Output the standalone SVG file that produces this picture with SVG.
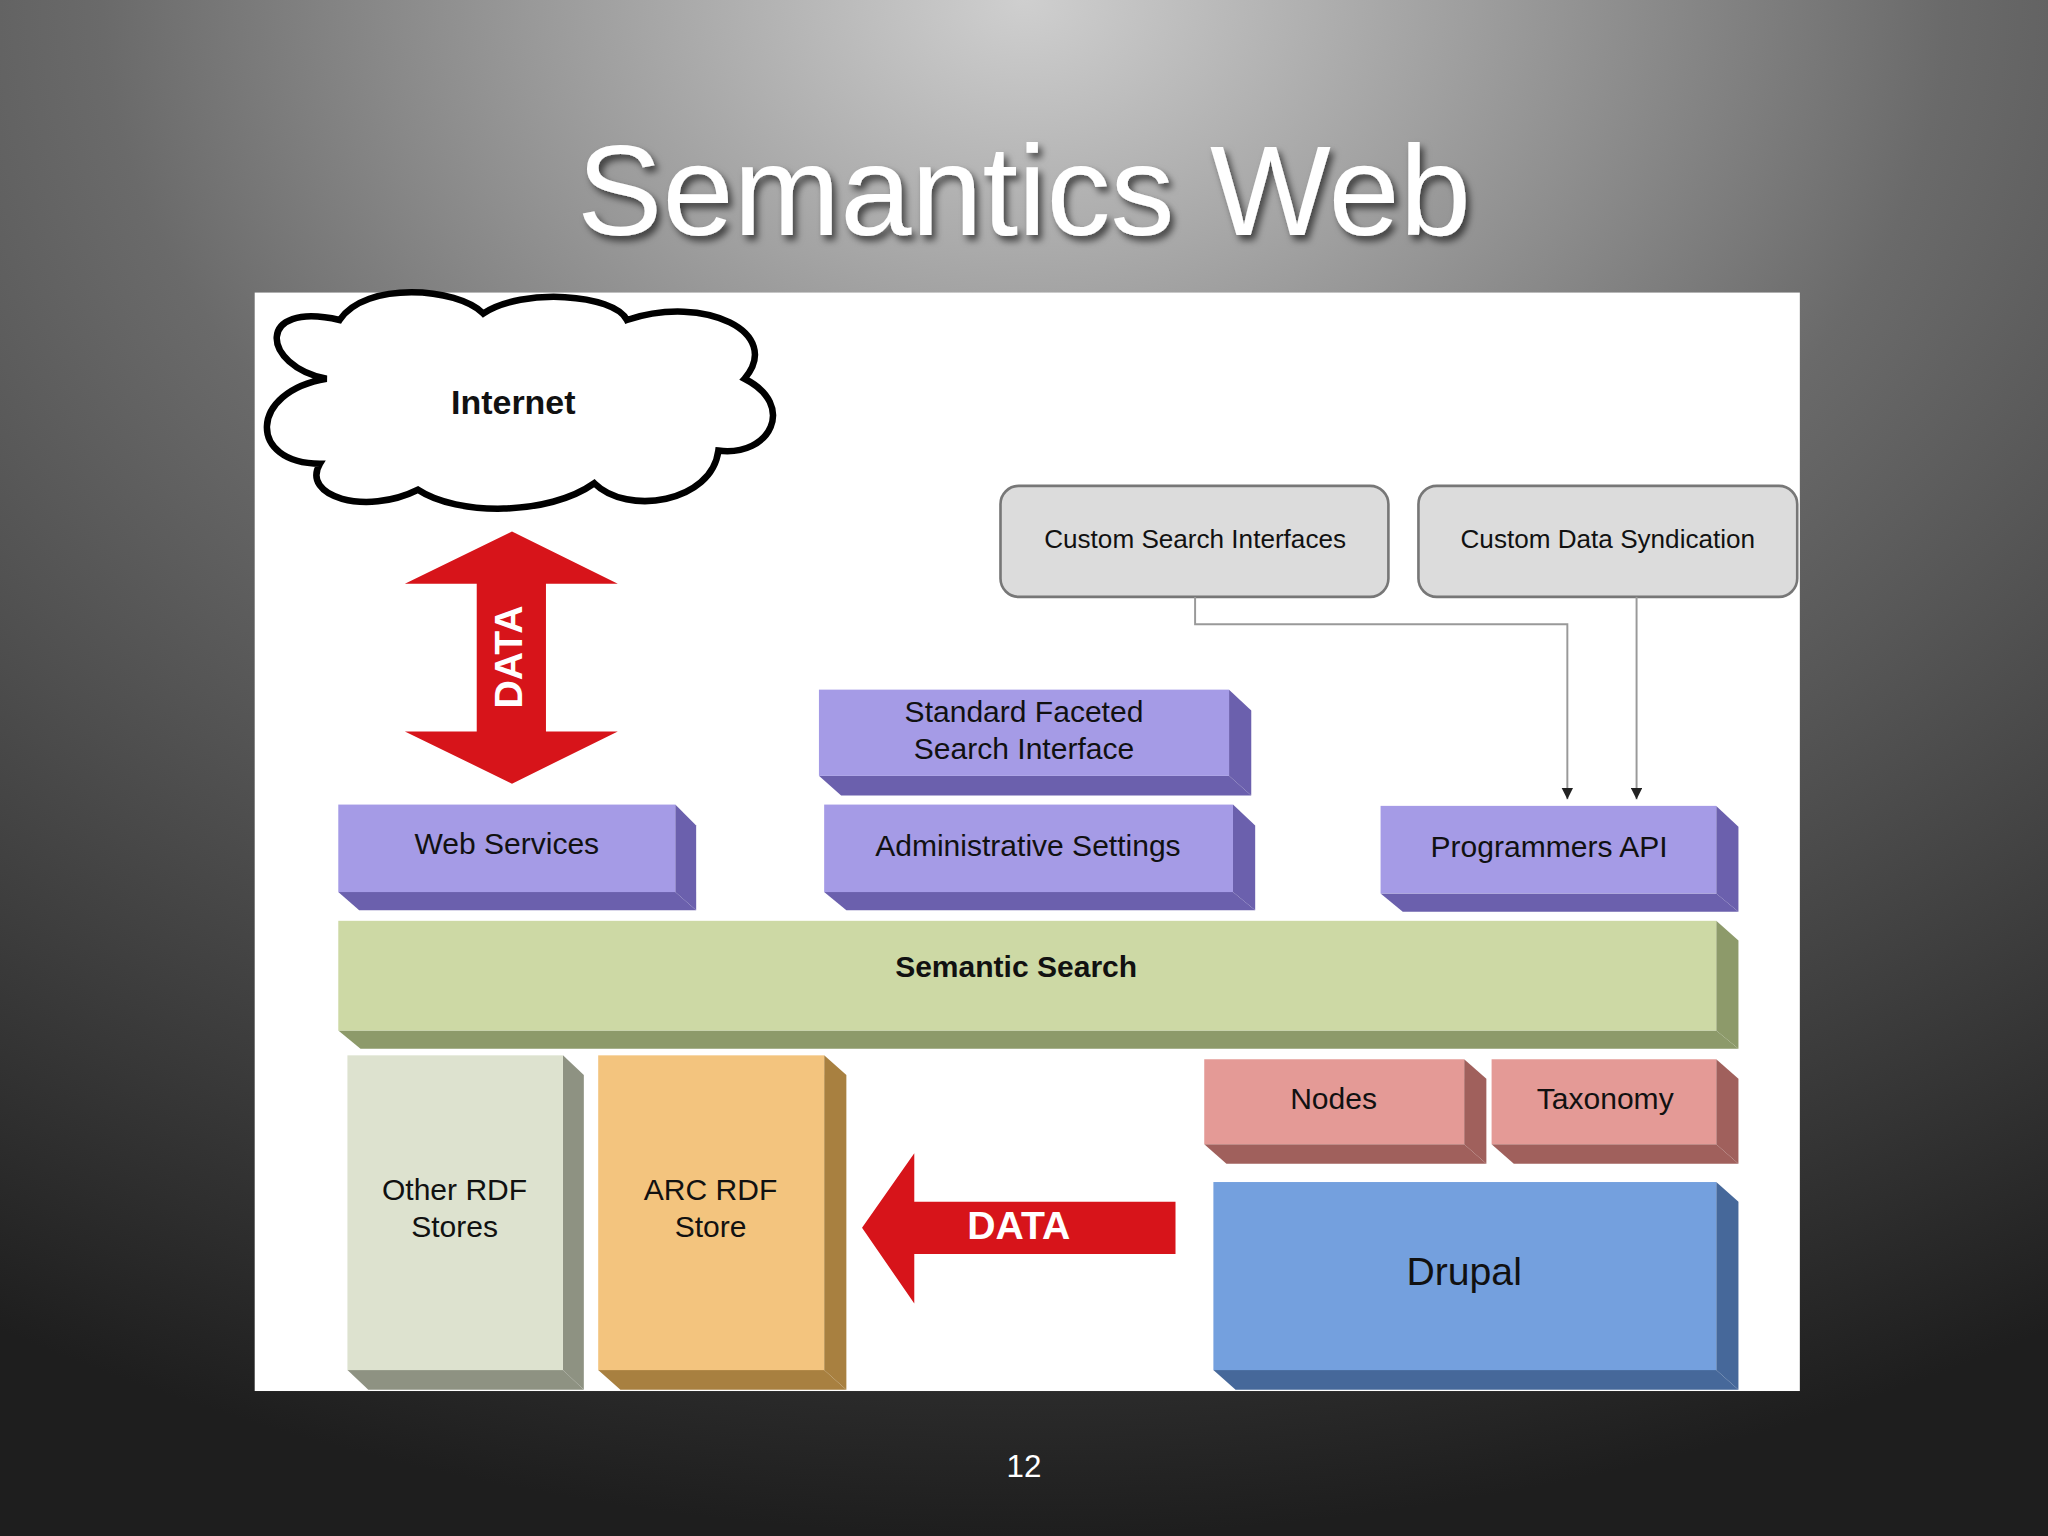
<svg xmlns="http://www.w3.org/2000/svg" width="2048" height="1536" viewBox="0 0 2048 1536">
<defs>
<radialGradient id="bg" cx="0.5" cy="0" r="1" gradientUnits="objectBoundingBox">
<stop offset="0" stop-color="#cfcfcf"/><stop offset="0.45" stop-color="#6a6a6a"/><stop offset="1" stop-color="#1e1e1e"/>
</radialGradient>
<filter id="sh"><feDropShadow dx="3" dy="4" stdDeviation="3" flood-color="#000" flood-opacity="0.6"/></filter>
<marker id="ah" viewBox="0 0 10 10" refX="10" refY="5" markerWidth="6" markerHeight="6" orient="auto"><path d="M0,0L10,5L0,10z" fill="#222"/></marker>
<style>
.t{font-family:"Liberation Sans",Arial,sans-serif;fill:#111;text-anchor:middle;dominant-baseline:middle}
.pf{fill:#a59be6}.ps{fill:#6b60ad}
.line{stroke:#999;stroke-width:1.5;fill:none}
</style>
</defs>
<rect width="2048" height="1536" fill="url(#bg)"/>
<g transform="scale(1.30612)">
<text x="784" y="180" font-family="Liberation Sans,Arial,sans-serif" font-size="98" fill="#fff" text-anchor="middle" filter="url(#sh)">Semantics Web</text>
<rect x="195" y="224" width="1183" height="841" fill="#fff"/>
<g id="internet">
<path d="M250,290 C200,280 195,230 260,245 C280,215 350,220 370,240 C400,220 470,225 480,245 C540,225 600,255 570,290 C610,310 590,350 550,345 C545,385 480,395 455,370 C420,395 350,395 320,375 C280,395 230,380 245,355 C190,355 190,300 250,290 Z" fill="#fff" stroke="#000" stroke-width="5"/>
<text class="t" x="393" y="310" font-size="26" font-weight="bold">Internet</text>
</g>
<g id="data-vertical">
<polygon points="392,407 473,447 418,447 418,560 473,560 392,600 310,560 365,560 365,447 310,447" fill="#d7141a"/>
<text class="t" x="392" y="503" font-size="30" font-weight="bold" fill="#fff" style="fill:#fff" transform="rotate(-90 392 503)">DATA</text>
</g>
<g id="data-horizontal">
<polygon points="660,940 700,883 700,920 900,920 900,960 700,960 700,998" fill="#d7141a"/>
<text class="t" x="780" y="941" font-size="30" font-weight="bold" style="fill:#fff">DATA</text>
</g>
<g id="custom-search">
<rect x="766" y="372" width="297" height="85" rx="14" fill="#dcdcdc" stroke="#777" stroke-width="2"/>
<text class="t" x="915" y="414" font-size="20">Custom Search Interfaces</text>
</g>
<g id="custom-data">
<rect x="1086" y="372" width="290" height="85" rx="14" fill="#dcdcdc" stroke="#777" stroke-width="2"/>
<text class="t" x="1231" y="414" font-size="20">Custom Data Syndication</text>
</g>
<g id="connectors">
<path class="line" d="M915,457 V478 H1200 V612" marker-end="url(#ah)"/>
<path class="line" d="M1253,457 V612" marker-end="url(#ah)"/>
</g>
<g id="web-services">
<polygon class="ps" points="517,616 533,632 533,697 517,683"/><polygon class="ps" points="259,683 517,683 533,697 275,697"/>
<rect class="pf" x="259" y="616" width="258" height="67"/>
<text class="t" x="388" y="648" font-size="23">Web Services</text>
</g>
<g id="faceted">
<polygon class="ps" points="941,528 958,544 958,609 941,594"/><polygon class="ps" points="627,594 941,594 958,609 644,609"/>
<rect class="pf" x="627" y="528" width="314" height="66"/>
<text class="t" x="784" y="547" font-size="23">Standard Faceted</text>
<text class="t" x="784" y="575" font-size="23">Search Interface</text>
</g>
<g id="admin">
<polygon class="ps" points="944,616 961,632 961,697 944,683"/><polygon class="ps" points="631,683 944,683 961,697 648,697"/>
<rect class="pf" x="631" y="616" width="313" height="67"/>
<text class="t" x="787" y="649" font-size="23">Administrative Settings</text>
</g>
<g id="api">
<polygon class="ps" points="1314,617 1331,633 1331,698 1314,684"/><polygon class="ps" points="1057,684 1314,684 1331,698 1074,698"/>
<rect class="pf" x="1057" y="617" width="257" height="67"/>
<text class="t" x="1186" y="650" font-size="23">Programmers API</text>
</g>
<g id="semantic">
<polygon fill="#8d9a6a" points="1314,705 1331,720 1331,803 1314,789"/><polygon fill="#8d9a6a" points="259,789 1314,789 1331,803 276,803"/>
<rect fill="#cdd9a5" x="259" y="705" width="1055" height="84"/>
<text class="t" x="778" y="742" font-size="23" font-weight="bold">Semantic Search</text>
</g>
<g id="other-rdf">
<polygon fill="#8e9282" points="431,808 447,823 447,1064 431,1049"/><polygon fill="#8e9282" points="266,1049 431,1049 447,1064 282,1064"/>
<rect fill="#dde2cf" x="266" y="808" width="165" height="241"/>
<text class="t" x="348" y="913" font-size="23">Other RDF</text><text class="t" x="348" y="941" font-size="23">Stores</text>
</g>
<g id="arc-rdf">
<polygon fill="#a88040" points="631,808 648,823 648,1064 631,1049"/><polygon fill="#a88040" points="458,1049 631,1049 648,1064 475,1064"/>
<rect fill="#f3c47e" x="458" y="808" width="173" height="241"/>
<text class="t" x="544" y="913" font-size="23">ARC RDF</text><text class="t" x="544" y="941" font-size="23">Store</text>
</g>
<g id="nodes">
<polygon fill="#a0605c" points="1121,811 1138,826 1138,891 1121,876"/><polygon fill="#a0605c" points="922,876 1121,876 1138,891 939,891"/>
<rect fill="#e49a96" x="922" y="811" width="199" height="65"/>
<text class="t" x="1021" y="843" font-size="23">Nodes</text>
</g>
<g id="taxonomy">
<polygon fill="#a0605c" points="1314,811 1331,826 1331,891 1314,876"/><polygon fill="#a0605c" points="1142,876 1314,876 1331,891 1159,891"/>
<rect fill="#e49a96" x="1142" y="811" width="172" height="65"/>
<text class="t" x="1229" y="843" font-size="23">Taxonomy</text>
</g>
<g id="drupal">
<polygon fill="#46689a" points="1314,905 1331,920 1331,1064 1314,1049"/><polygon fill="#46689a" points="929,1049 1314,1049 1331,1064 946,1064"/>
<rect fill="#74a0de" x="929" y="905" width="385" height="144"/>
<text class="t" x="1121" y="976" font-size="30">Drupal</text>
</g>
<text x="784" y="1131" font-family="Liberation Sans,Arial,sans-serif" font-size="24" fill="#fff" text-anchor="middle">12</text>
</g>
</svg>
